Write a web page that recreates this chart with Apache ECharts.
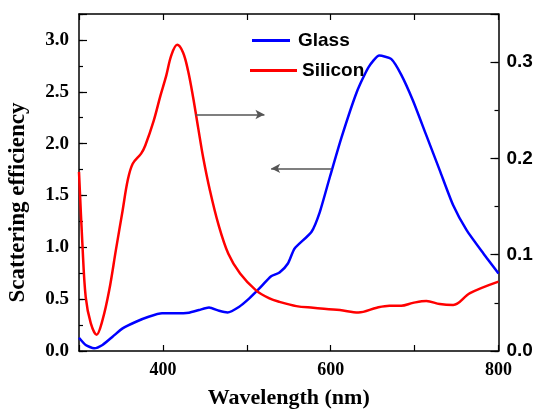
<!DOCTYPE html>
<html>
<head>
<meta charset="utf-8">
<script src="https://cdn.jsdelivr.net/npm/echarts@6/dist/echarts.min.js"></script>
<style>html,body{margin:0;padding:0;background:#fff}#c{width:537px;height:411px}</style>
</head>
<body>
<div id="c"></div>
<script>
// Glass (blue) — left axis
const glassWavelength = [300, 308, 318, 328, 340, 352, 368, 383, 399, 415, 431, 443, 455, 467, 477, 491, 503, 515, 529, 539, 549, 557, 577, 587, 599, 613, 631, 645, 658, 672, 684, 698, 714, 730, 746, 762, 782, 800];
const glassValues     = [0.128, 0.058, 0.026, 0.058, 0.138, 0.218, 0.282, 0.33, 0.363, 0.363, 0.369, 0.395, 0.42, 0.388, 0.372, 0.427, 0.507, 0.603, 0.72, 0.757, 0.844, 0.988, 1.148, 1.34, 1.678, 2.063, 2.496, 2.736, 2.849, 2.817, 2.666, 2.416, 2.079, 1.742, 1.405, 1.165, 0.94, 0.748];
// Silicon (red) — right axis
const siliconWavelength = [300, 304, 308, 314, 321, 328, 336, 344, 352, 358, 364, 374, 379, 389, 397, 404, 410, 417, 424, 430, 436, 442, 448, 456, 466, 478, 492, 511, 527, 539, 559, 579, 611, 633, 655, 670, 684, 698, 714, 730, 746, 766, 800];
const siliconValues     = [0.186, 0.112, 0.056, 0.029, 0.017, 0.032, 0.063, 0.105, 0.146, 0.177, 0.1945, 0.205, 0.2135, 0.239, 0.265, 0.286, 0.307, 0.318, 0.310, 0.291, 0.2635, 0.232, 0.201, 0.167, 0.132, 0.101, 0.0805, 0.063, 0.0546, 0.051, 0.0466, 0.0449, 0.0425, 0.040, 0.045, 0.047, 0.047, 0.050, 0.052, 0.0487, 0.0477, 0.060, 0.072];
// tick settings
const xTicks = [400, 600, 800];
// annotation arrows (data space)
const arrowSilicon = [[439, 0.2456], [521, 0.2456]];
const arrowGlass = [[601, 1.761], [529, 1.761]];

const pairs = (xs, ys) => xs.map((x, i) => [x, ys[i]]);
const serif = 'Liberation Serif';
const sans = 'Liberation Sans';

const chart = echarts.init(document.getElementById('c'), null, {renderer: 'canvas'});
chart.setOption({
  animation: false,
  backgroundColor: '#fff',
  grid: {left: 79, right: 38.5, top: 14, bottom: 60, containLabel: false, outerBoundsMode: 'none'},
  legend: [
    {data: ['Glass'], left: 252, top: 31, padding: 0, icon: 'rect', itemWidth: 38, itemHeight: 3,
     textStyle: {fontFamily: sans, fontWeight: 'bold', fontSize: 19, color: '#000', padding: [0,0,0,3]}},
    {data: ['Silicon'], left: 250, top: 61, padding: 0, icon: 'rect', itemWidth: 47, itemHeight: 3,
     textStyle: {fontFamily: sans, fontWeight: 'bold', fontSize: 19, color: '#000'}}
  ],
  xAxis: [
    {type: 'value', min: 300, max: 800, interval: 100, position: 'bottom',
     name: 'Wavelength (nm)', nameLocation: 'middle', nameGap: 36,
     nameTextStyle: {fontFamily: serif, fontWeight: 'bold', fontSize: 22, color: '#000'},
     axisLine: {onZero: false, lineStyle: {color: '#000', width: 1.5}},
     axisTick: {inside: true, length: 6, lineStyle: {color: '#000', width: 1.2}},
     axisLabel: {fontFamily: serif, fontWeight: 'bold', fontSize: 18, color: '#000', margin: 10,
       formatter: v => xTicks.includes(v) ? String(v) : ''},
     splitLine: {show: false}},
    {type: 'value', min: 300, max: 800, interval: 100, position: 'top',
     axisLine: {show: true, onZero: false, lineStyle: {color: '#000', width: 1.5}},
     axisTick: {inside: true, length: 6, lineStyle: {color: '#000', width: 1.2}},
     axisLabel: {show: false}, splitLine: {show: false}}
  ],
  yAxis: [
    {type: 'value', min: 0, max: 3.25, interval: 0.5, position: 'left',
     name: 'Scattering efficiency', nameLocation: 'middle', nameGap: 49,
     nameTextStyle: {fontFamily: serif, fontWeight: 'bold', fontSize: 23, color: '#000', padding: [0, 40, 0, 0]},
     axisLine: {show: true, onZero: false, lineStyle: {color: '#000', width: 1.5}},
     axisTick: {show: true, inside: true, length: 8, lineStyle: {color: '#000', width: 1.2}},
     axisLabel: {fontFamily: serif, fontWeight: 'bold', fontSize: 19, color: '#000', margin: 10,
       formatter: v => (Math.abs(v * 2 - Math.round(v * 2)) < 1e-6 && v <= 3.0001) ? v.toFixed(1) : ''},
     splitLine: {show: false}},
    {type: 'value', min: 0, max: 0.35, interval: 0.1, position: 'right',
     axisLine: {show: true, onZero: false, lineStyle: {color: '#000', width: 1.5}},
     axisTick: {show: true, inside: true, length: 8, lineStyle: {color: '#000', width: 1.2}},
     axisLabel: {fontFamily: sans, fontWeight: 'bold', fontSize: 19, color: '#000', margin: 8,
       formatter: v => (Math.abs(v * 10 - Math.round(v * 10)) < 1e-6 && v <= 0.3001) ? v.toFixed(1) : ''},
     splitLine: {show: false}},
    {type: 'value', min: 0, max: 3.25, interval: 0.25, position: 'left',
     axisLine: {show: false, onZero: false}, axisLabel: {show: false}, splitLine: {show: false},
     axisTick: {show: true, inside: true, length: 4, lineStyle: {color: '#000', width: 1.2}}},
    {type: 'value', min: 0, max: 0.35, interval: 0.05, position: 'right',
     axisLine: {show: false, onZero: false}, axisLabel: {show: false}, splitLine: {show: false},
     axisTick: {show: true, inside: true, length: 4, lineStyle: {color: '#000', width: 1.2}}}
  ],
  series: [
    {name: 'Glass', type: 'line', xAxisIndex: 0, yAxisIndex: 0, data: pairs(glassWavelength, glassValues),
     showSymbol: false, smooth: 0.2, lineStyle: {color: '#0000ff', width: 2.5}, itemStyle: {color: '#0000ff'},
     markLine: {silent: true, symbol: ['none', 'arrow'], symbolSize: [7, 9], label: {show: false},
       lineStyle: {color: '#555', type: 'solid', width: 1.5},
       data: [[{coord: arrowGlass[0]}, {coord: arrowGlass[1]}]]}},
    {name: 'Silicon', type: 'line', xAxisIndex: 0, yAxisIndex: 1, data: pairs(siliconWavelength, siliconValues),
     showSymbol: false, smooth: 0.35, lineStyle: {color: '#ff0000', width: 2.5}, itemStyle: {color: '#ff0000'},
     markLine: {silent: true, symbol: ['none', 'arrow'], symbolSize: [7, 9], label: {show: false},
       lineStyle: {color: '#555', type: 'solid', width: 1.5},
       data: [[{coord: arrowSilicon[0]}, {coord: arrowSilicon[1]}]]}}
  ]
});
</script>
</body>
</html>
